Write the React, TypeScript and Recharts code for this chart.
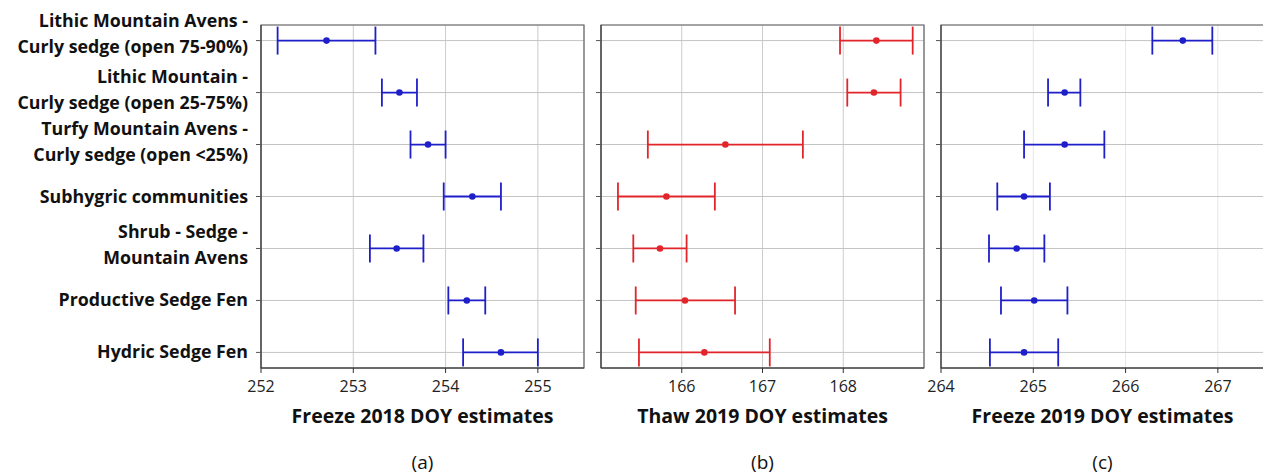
import { ScatterChart, Scatter, XAxis, YAxis, CartesianGrid, ErrorBar, ReferenceArea } from 'recharts'

const categoryLines = [
  ['Lithic Mountain Avens -', 'Curly sedge (open 75-90%)'],
  ['Lithic Mountain -', 'Curly sedge (open 25-75%)'],
  ['Turfy Mountain Avens -', 'Curly sedge (open <25%)'],
  ['Subhygric communities'],
  ['Shrub - Sedge -', 'Mountain Avens'],
  ['Productive Sedge Fen'],
  ['Hydric Sedge Fen'],
]

const freeze2018Mean = [252.71, 253.5, 253.81, 254.29, 253.47, 254.23, 254.6]
const freeze2018Low = [252.18, 253.31, 253.62, 253.98, 253.18, 254.03, 254.19]
const freeze2018High = [253.24, 253.69, 254.0, 254.6, 253.76, 254.43, 255.0]

const thaw2019Mean = [168.41, 168.38, 166.54, 165.81, 165.73, 166.04, 166.28]
const thaw2019Low = [167.96, 168.05, 165.58, 165.21, 165.4, 165.43, 165.47]
const thaw2019High = [168.86, 168.71, 167.5, 166.41, 166.06, 166.66, 167.09]

const freeze2019Mean = [266.62, 265.34, 265.34, 264.9, 264.82, 265.01, 264.9]
const freeze2019Low = [266.29, 265.16, 264.9, 264.61, 264.52, 264.65, 264.53]
const freeze2019High = [266.94, 265.51, 265.77, 265.18, 265.12, 265.37, 265.27]

const freeze2018Ticks = [252, 253, 254, 255]
const thaw2019Ticks = [166, 167, 168]
const freeze2019Ticks = [264, 265, 266, 267]

const rowTicks = [0, 1, 2, 3, 4, 5, 6]
const FONT = '"Open Sans", sans-serif'
const BLUE = '#1f1fc9'
const RED = '#e2252b'

function CategoryTick({ x, y, payload }: any) {
  const lines = categoryLines[payload.value] || []
  // first row sits a bit higher in the original
  const shift = payload.value === 0 ? -4 : 0
  const offsets = lines.length === 1 ? [6] : [-10, 16]
  return (
    <text x={x} y={y} textAnchor="end" fontFamily={FONT} fontWeight={700} fontSize={17.8} fill="#111">
      {lines.map((l, i) => (
        <tspan key={i} x={x} y={y + offsets[i] + shift}>{l}</tspan>
      ))}
    </text>
  )
}

const EmptyTick = () => <g />

interface PanelProps {
  mean: number[]
  low: number[]
  high: number[]
  domain: [number, number]
  ticks: number[]
  color: string
  left: number
  width: number
  yAxisWidth: number
  marginRight: number
  showLabels: boolean
  vGrid: string
  title: string
  letter: string
}

function Panel(p: PanelProps) {
  const data = p.mean.map((m, i) => ({ y: i, x: m, err: [m - p.low[i], p.high[i] - m] }))
  const plotLeft = p.left + p.yAxisWidth
  const plotWidth = p.width - p.yAxisWidth - p.marginRight
  return (
    <>
      <div style={{ position: 'absolute', left: p.left, top: 0 }}>
        <ScatterChart width={p.width} height={476} margin={{ top: 25, right: p.marginRight, bottom: 78, left: 0 }}>
          <CartesianGrid horizontal={false} stroke={p.vGrid} strokeWidth={1} />
          <CartesianGrid vertical={false} stroke="#c4c4c4" strokeWidth={1} />
          <XAxis
            type="number"
            dataKey="x"
            domain={p.domain}
            ticks={p.ticks}
            allowDataOverflow
            height={30}
            tickSize={5}
            tickMargin={8}
            stroke="#333"
            tick={{ fontFamily: FONT, fontSize: 16, fill: '#222' }}
            interval={0}
          />
          <YAxis
            type="number"
            dataKey="y"
            domain={[-0.3, 6.3]}
            ticks={rowTicks}
            reversed
            allowDataOverflow
            width={p.yAxisWidth}
            tickSize={5}
            tickMargin={8}
            stroke="#333"
            interval={0}
            tick={p.showLabels ? <CategoryTick /> : <EmptyTick />}
            tickLine={{ stroke: '#555' }}
          />
          <ReferenceArea
            x1={p.domain[0]}
            x2={p.domain[1]}
            y1={-0.3}
            y2={6.3}
            fill="none"
            stroke="#666"
            strokeWidth={1.2}
            ifOverflow="visible"
          />
          <Scatter
            data={data}
            isAnimationActive={false}
            shape={(s: any) => <circle cx={s.cx} cy={s.cy} r={3.3} fill={p.color} />}
          >
            <ErrorBar dataKey="err" direction="x" width={14} stroke={p.color} strokeWidth={1.8} />
          </Scatter>
        </ScatterChart>
      </div>
      <div
        style={{
          position: 'absolute',
          left: plotLeft,
          width: plotWidth,
          top: 403,
          lineHeight: '26px',
          textAlign: 'center',
          fontFamily: FONT,
          fontWeight: 700,
          fontSize: 19.5,
          color: '#111',
        }}
      >
        {p.title}
      </div>
      <div
        style={{
          position: 'absolute',
          left: plotLeft,
          width: plotWidth,
          top: 451,
          lineHeight: '22px',
          textAlign: 'center',
          fontFamily: FONT,
          fontSize: 19,
          color: '#111',
        }}
      >
        {p.letter}
      </div>
    </>
  )
}

export default function App() {
  return (
    <div style={{ position: 'absolute', left: 0, top: 0, width: 1263, height: 476, background: '#fff', overflow: 'hidden' }}>
      <Panel
        mean={freeze2018Mean}
        low={freeze2018Low}
        high={freeze2018High}
        domain={[252, 255.5]}
        ticks={freeze2018Ticks}
        color={BLUE}
        left={0}
        width={600}
        yAxisWidth={261}
        marginRight={16}
        showLabels
        vGrid="#cccccc"
        title="Freeze 2018 DOY estimates"
        letter="(a)"
      />
      <Panel
        mean={thaw2019Mean}
        low={thaw2019Low}
        high={thaw2019High}
        domain={[165, 169]}
        ticks={thaw2019Ticks}
        color={RED}
        left={585}
        width={350}
        yAxisWidth={16}
        marginRight={11}
        showLabels={false}
        vGrid="#cccccc"
        title="Thaw 2019 DOY estimates"
        letter="(b)"
      />
      <Panel
        mean={freeze2019Mean}
        low={freeze2019Low}
        high={freeze2019High}
        domain={[264, 267.5]}
        ticks={freeze2019Ticks}
        color={BLUE}
        left={925}
        width={339}
        yAxisWidth={16}
        marginRight={0}
        showLabels={false}
        vGrid="#e6e6e6"
        title="Freeze 2019 DOY estimates"
        letter="(c)"
      />
    </div>
  )
}
